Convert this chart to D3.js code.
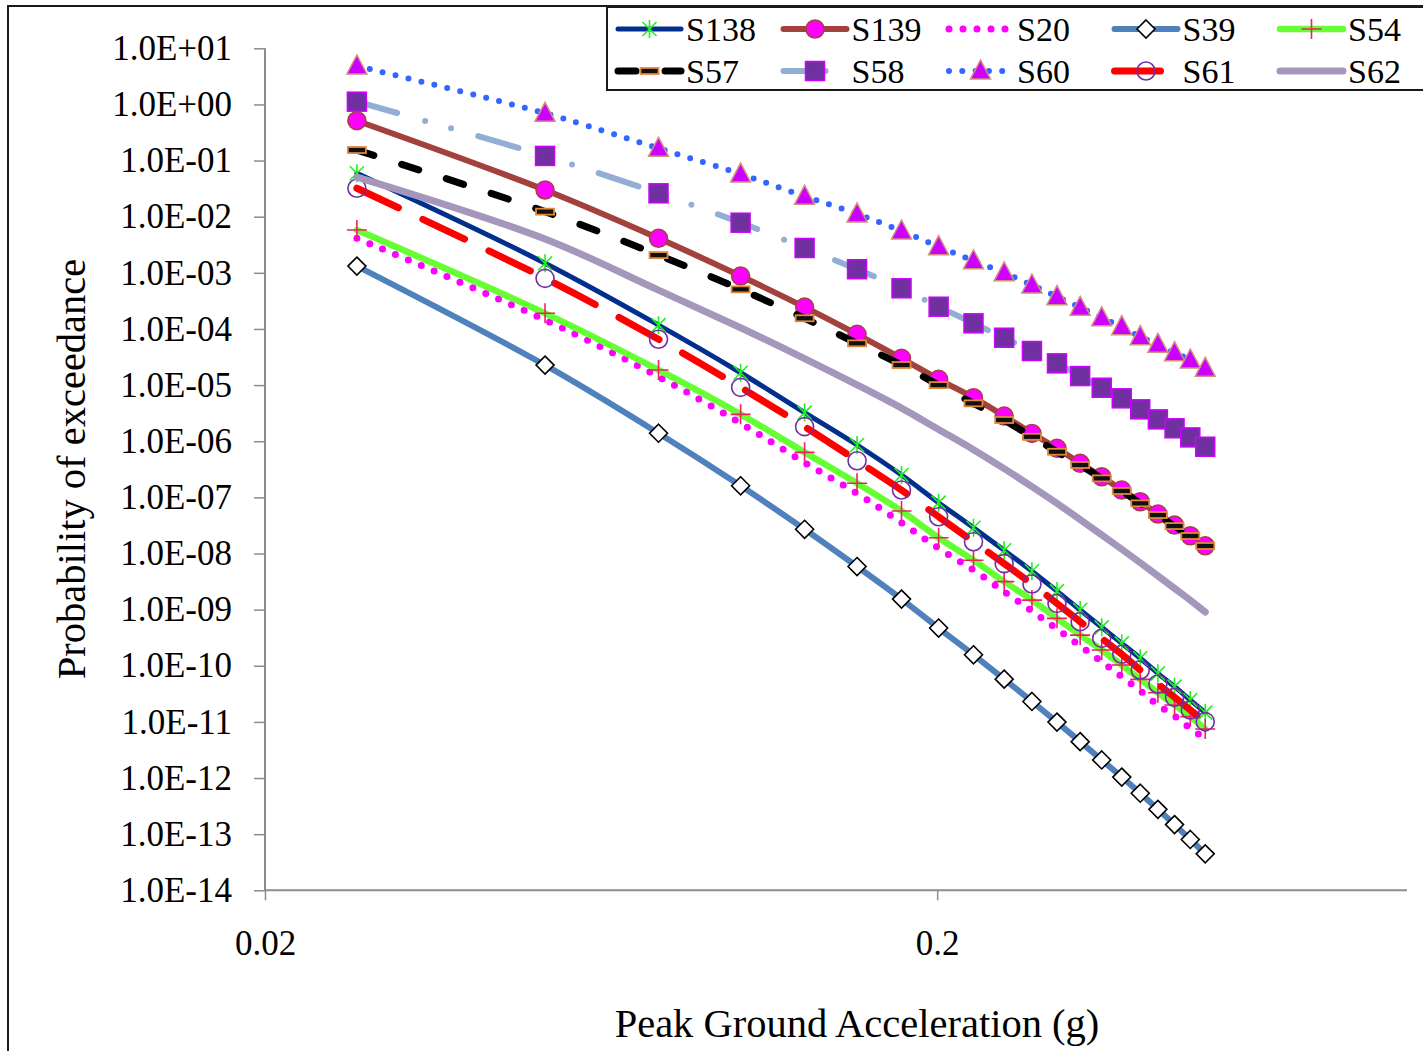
<!DOCTYPE html>
<html>
<head>
  <meta charset="utf8" />
  <style>
    body { margin: 0; background: #fff; }
    text { font-family: "Liberation Serif", "Times New Roman", serif; fill: #000; }
  </style>
</head>
<body>
  <script src="https://d3js.org/d3.v7.min.js"></script>
  <script>
    // peak ground acceleration (g) at each computed point
    var pga = [0.0274, 0.0522, 0.077, 0.102, 0.127, 0.152, 0.177, 0.201, 0.2265, 0.2516,
               0.2767, 0.3015, 0.3264, 0.3514, 0.3764, 0.401, 0.426, 0.451, 0.476, 0.501];

    // probability of exceedance per site
    var s138 = [5.93e-2, 1.48e-3, 1.17e-4, 1.66e-5, 3.24e-6, 8.57e-7, 2.50e-7, 8.04e-8, 2.88e-8, 1.14e-8,
                4.83e-9, 2.14e-9, 9.84e-10, 4.84e-10, 2.51e-10, 1.36e-10, 7.33e-11, 4.24e-11, 2.45e-11, 1.46e-11];
    var s139 = [5.13e-1, 2.99e-2, 4.12e-3, 8.77e-4, 2.45e-4, 8.04e-5, 3.00e-5, 1.27e-5, 5.96e-6, 2.81e-6,
                1.38e-6, 7.48e-7, 4.04e-7, 2.33e-7, 1.35e-7, 8.36e-8, 5.05e-8, 3.21e-8, 2.07e-8, 1.37e-8];
    var s20  = [4.12e-3, 1.45e-4, 1.41e-5, 2.09e-6, 4.17e-7, 1.18e-7, 3.53e-8, 1.24e-8, 5.07e-9, 2.09e-9,
                9.44e-10, 4.52e-10, 2.25e-10, 1.18e-10, 6.38e-11, 3.59e-11, 2.0e-11, 1.27e-11, 7.67e-12, 5.09e-12];
    var s39  = [1.32e-3, 2.27e-5, 1.39e-6, 1.61e-7, 2.70e-8, 5.86e-9, 1.54e-9, 4.70e-10, 1.57e-10, 5.78e-11,
                2.31e-11, 9.93e-12, 4.45e-12, 2.10e-12, 1.04e-12, 5.36e-13, 2.77e-13, 1.48e-13, 8.05e-14, 4.46e-14];
    var s54  = [5.79e-3, 1.90e-4, 1.86e-5, 3.01e-6, 6.34e-7, 1.78e-7, 5.71e-8, 1.91e-8, 7.59e-9, 3.16e-9,
                1.48e-9, 7.0e-10, 3.52e-10, 1.91e-10, 1.03e-10, 5.73e-11, 3.31e-11, 2.0e-11, 1.24e-11, 7.46e-12];
    var s57  = [1.54e-1, 1.23e-2, 2.07e-3, 5.08e-4, 1.55e-4, 5.55e-5, 2.28e-5, 1.0e-5, 4.73e-6, 2.39e-6,
                1.20e-6, 6.5e-7, 3.77e-7, 2.18e-7, 1.30e-7, 7.83e-8, 4.84e-8, 3.08e-8, 2.05e-8, 1.36e-8];
    var s58  = [1.12, 1.21e-1, 2.61e-2, 7.82e-3, 2.77e-3, 1.16e-3, 5.30e-4, 2.49e-4, 1.26e-4, 6.98e-5,
                4.05e-5, 2.44e-5, 1.45e-5, 8.97e-6, 5.81e-6, 3.70e-6, 2.45e-6, 1.70e-6, 1.17e-6, 7.98e-7];
    var s60  = [4.84, 6.95e-1, 1.65e-1, 5.75e-2, 2.31e-2, 1.12e-2, 5.56e-3, 2.92e-3, 1.64e-3, 1.0e-3,
                6.07e-4, 3.76e-4, 2.43e-4, 1.58e-4, 1.10e-4, 7.28e-5, 5.32e-5, 3.78e-5, 2.80e-5, 1.99e-5];
    var s61  = [3.21e-2, 7.98e-4, 6.55e-5, 9.12e-6, 1.82e-6, 4.50e-7, 1.35e-7, 4.52e-8, 1.62e-8, 6.61e-9,
                2.86e-9, 1.29e-9, 6.10e-10, 3.08e-10, 1.60e-10, 8.39e-11, 4.73e-11, 2.74e-11, 1.63e-11, 1.01e-11];
    var s62  = [5.09e-2, 4.01e-3, 4.92e-4, 1.05e-4, 2.97e-5, 1.01e-5, 3.89e-6, 1.62e-6, 7.08e-7, 3.25e-7,
                1.55e-7, 7.80e-8, 4.03e-8, 2.15e-8, 1.19e-8, 6.85e-9, 4.00e-9, 2.39e-9, 1.47e-9, 9.06e-10];

    var xTicks = [0.02, 0.2];
    var yTicks = d3.range(1, -15, -1).map(e => Math.pow(10, e));

    // styles, in Excel draw order
    var series = [
      {name: "S138", values: s138, color: "#002f8e", width: 5,   dash: null,                 marker: "star"},
      {name: "S139", values: s139, color: "#a3423d", width: 6,   dash: null,                 marker: "circle"},
      {name: "S20",  values: s20,  color: "#ff00ff", width: 7,   dash: "0 14",               marker: null},
      {name: "S39",  values: s39,  color: "#4f81bd", width: 6,   dash: null,                 marker: "diamond"},
      {name: "S54",  values: s54,  color: "#66ff33", width: 6.5, dash: null,                 marker: "plus"},
      {name: "S57",  values: s57,  color: "#000000", width: 7,   dash: "18 29",              marker: "dash"},
      {name: "S58",  values: s58,  color: "#93aed4", width: 6,   dash: "42 29 0 27 0 28",    marker: "square"},
      {name: "S60",  values: s60,  color: "#3366ff", width: 6,   dash: "0 13.3",             marker: "triangle"},
      {name: "S61",  values: s61,  color: "#ff0000", width: 7,   dash: "46 27",              marker: "ocircle"},
      {name: "S62",  values: s62,  color: "#a497bb", width: 7,   dash: null,                 marker: null}
    ];

    var width = 1423, height = 1051;
    var x = d3.scaleLog().domain([0.02, 1.0]).range([265, 1407]);
    var y = d3.scaleLog().domain([1e-14, 10]).range([890.3, 48.3]);

    var svg = d3.select("body").append("svg").attr("width", width).attr("height", height);

    // outer chart border (cropped on right and bottom)
    svg.append("path")
        .attr("d", "M8," + height + "V6H" + width)
        .attr("fill", "none").attr("stroke", "#1a1a1a").attr("stroke-width", 2);

    function expLabel(v) {
      var e = Math.round(Math.log10(v));
      var s = Math.abs(e) < 10 ? "0" + Math.abs(e) : "" + Math.abs(e);
      return "1.0E" + (e < 0 ? "-" : "+") + s;
    }

    var yAxis = svg.append("g")
        .attr("transform", "translate(265,0)")
        .call(d3.axisLeft(y).tickValues(yTicks).tickFormat(expLabel).tickSize(11).tickPadding(22));
    var xAxis = svg.append("g")
        .attr("transform", "translate(0,890.3)")
        .call(d3.axisBottom(x).tickValues(xTicks).tickFormat(d => String(d)).tickSize(10).tickPadding(30));

    [yAxis, xAxis].forEach(g => {
      g.select(".domain").attr("stroke", "#8c8c8c").attr("stroke-width", 2);
      g.selectAll(".tick line").attr("stroke", "#8c8c8c").attr("stroke-width", 1.5);
      g.selectAll(".tick text").attr("font-family", "Liberation Serif, Times New Roman, serif")
          .attr("font-size", 35).attr("fill", "#000");
    });
    xAxis.select(".domain").attr("d", "M265,0H1407");
    yAxis.select(".domain").attr("d", "M0,48.3V890.3");

    svg.append("text")
        .attr("x", 857).attr("y", 1037)
        .attr("text-anchor", "middle").attr("font-size", 40.5)
        .text("Peak Ground Acceleration (g)");
    svg.append("text")
        .attr("transform", "translate(85,469) rotate(-90)")
        .attr("text-anchor", "middle").attr("font-size", 40.5)
        .text("Probability of exceedance");

    function drawMarker(g, type, cx, cy) {
      var m = g.append("g").attr("transform", "translate(" + cx + "," + cy + ")");
      if (type === "star") {
        m.append("path").attr("d", "M-7,-7L7,7M-7,7L7,-7M0,-9V9")
            .attr("stroke", "#22ee22").attr("stroke-width", 1.6).attr("fill", "none");
      } else if (type === "circle") {
        m.append("circle").attr("r", 9).attr("fill", "#ff00ff").attr("stroke", "#a3423d").attr("stroke-width", 1.5);
      } else if (type === "ocircle") {
        m.append("circle").attr("r", 9).attr("fill", "none").attr("stroke", "#7030a0").attr("stroke-width", 1.6);
      } else if (type === "diamond") {
        m.append("path").attr("d", "M0,-9L9,0L0,9L-9,0Z")
            .attr("fill", "#fff").attr("stroke", "#000").attr("stroke-width", 1.6);
      } else if (type === "plus") {
        m.append("path").attr("d", "M-10,0H10M0,-10V10")
            .attr("stroke", "#f0205f").attr("stroke-width", 1.6).attr("fill", "none");
      } else if (type === "dash") {
        m.append("rect").attr("x", -9).attr("y", -3).attr("width", 18).attr("height", 6)
            .attr("fill", "#111").attr("stroke", "#e0883a").attr("stroke-width", 1.8);
      } else if (type === "square") {
        m.append("rect").attr("x", -9.5).attr("y", -9.5).attr("width", 19).attr("height", 19)
            .attr("fill", "#7030a0").attr("stroke", "#cc00ff").attr("stroke-width", 1.5);
      } else if (type === "triangle") {
        m.append("path").attr("d", "M0,-11L10,8H-10Z")
            .attr("fill", "#cc00ff").attr("stroke", "#d0907a").attr("stroke-width", 1.5);
      }
    }

    var line = d3.line()
        .x(d => x(d[0]))
        .y(d => y(d[1]))
        .curve(d3.curveCatmullRom.alpha(0.5));

    var plot = svg.append("g");
    series.forEach(s => {
      var pts = pga.map((p, i) => [p, s.values[i]]);
      var g = plot.append("g");
      g.append("path")
          .attr("d", line(pts))
          .attr("fill", "none")
          .attr("stroke", s.color)
          .attr("stroke-width", s.width)
          .attr("stroke-linecap", "round")
          .attr("stroke-linejoin", "round")
          .attr("stroke-dasharray", s.dash);
      if (s.marker) pts.forEach(d => drawMarker(g, s.marker, x(d[0]), y(d[1])));
    });

    // legend
    var legend = svg.append("g");
    legend.append("rect")
        .attr("x", 607).attr("y", 7).attr("width", 830).attr("height", 83)
        .attr("fill", "#fff").attr("stroke", "#1a1a1a").attr("stroke-width", 2);
    series.forEach((s, i) => {
      var col = i % 5, row = Math.floor(i / 5);
      var lx = 618 + col * 165.5, ly = 29 + row * 42;
      var item = legend.append("g");
      item.append("path")
          .attr("d", "M" + lx + "," + ly + "H" + (lx + 63))
          .attr("fill", "none")
          .attr("stroke", s.color)
          .attr("stroke-width", s.width)
          .attr("stroke-linecap", "round")
          .attr("stroke-dasharray", s.dash);
      if (s.marker) drawMarker(item, s.marker, lx + 31.5, ly);
      item.append("text")
          .attr("x", lx + 68).attr("y", ly + 12)
          .attr("font-size", 34)
          .text(s.name);
    });
  </script>
</body>
</html>
